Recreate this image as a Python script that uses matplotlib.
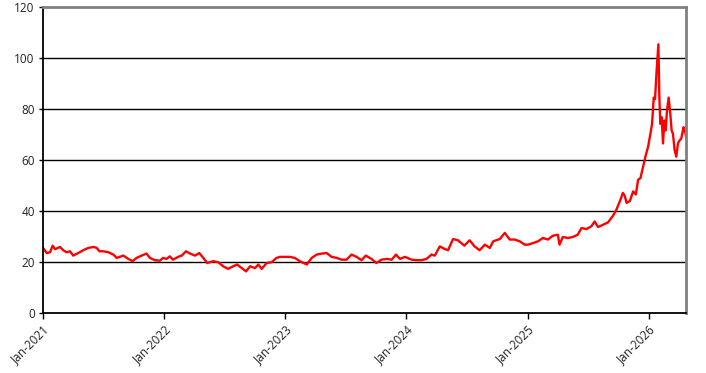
import matplotlib
matplotlib.use("Agg")
import matplotlib.pyplot as plt
import matplotlib.dates as mdates
import pandas as pd

plt.rcParams["font.family"] = ["Open Sans", "DejaVu Sans"]

# values, about every two weeks
dates = [
    "2021-01-01", "2021-01-12", "2021-01-22", "2021-01-30", "2021-02-06", "2021-02-21",
    "2021-03-03", "2021-03-13", "2021-03-23", "2021-04-02", "2021-04-17", "2021-05-02",
    "2021-05-17", "2021-06-02", "2021-06-12", "2021-06-20", "2021-07-02", "2021-07-17",
    "2021-08-01", "2021-08-11", "2021-08-31", "2021-09-15", "2021-09-28", "2021-10-10",
    "2021-10-25", "2021-11-09", "2021-11-19", "2021-12-04", "2021-12-19", "2021-12-29",
    "2022-01-08", "2022-01-18", "2022-01-28", "2022-02-12", "2022-02-23", "2022-03-08",
    "2022-03-20", "2022-04-04", "2022-04-17", "2022-04-29", "2022-05-11", "2022-05-29",
    "2022-06-13", "2022-06-28", "2022-07-13", "2022-07-28", "2022-08-09", "2022-08-23",
    "2022-09-05", "2022-09-17", "2022-10-02", "2022-10-12", "2022-10-22", "2022-11-06",
    "2022-11-21", "2022-12-06", "2022-12-16", "2023-01-01", "2023-01-15", "2023-01-30",
    "2023-02-14", "2023-03-07", "2023-03-22", "2023-04-06", "2023-04-21", "2023-05-06",
    "2023-05-21", "2023-06-05", "2023-06-20", "2023-07-05", "2023-07-20", "2023-08-04",
    "2023-08-19", "2023-09-01", "2023-09-18", "2023-10-03", "2023-10-18", "2023-11-03",
    "2023-11-18", "2023-12-01", "2023-12-13", "2023-12-28", "2024-01-17", "2024-02-01",
    "2024-02-16", "2024-03-02", "2024-03-17", "2024-03-27", "2024-04-11", "2024-04-26",
    "2024-05-06", "2024-05-21", "2024-06-05", "2024-06-20", "2024-06-24", "2024-07-10",
    "2024-07-25", "2024-08-09", "2024-08-25", "2024-09-09", "2024-09-19", "2024-10-09",
    "2024-10-24", "2024-11-08", "2024-11-23", "2024-12-08", "2024-12-23", "2025-01-02",
    "2025-01-17", "2025-02-01", "2025-02-16", "2025-03-03", "2025-03-18", "2025-04-02",
    "2025-04-07", "2025-04-17", "2025-05-02", "2025-05-17", "2025-06-01", "2025-06-12",
    "2025-06-27", "2025-07-12", "2025-07-22", "2025-08-01", "2025-08-16", "2025-08-31",
    "2025-09-15", "2025-09-25", "2025-10-05", "2025-10-15", "2025-10-21", "2025-10-26",
    "2025-11-05", "2025-11-15", "2025-11-23", "2025-11-30", "2025-12-07", "2025-12-15",
    "2025-12-23", "2025-12-30", "2026-01-06", "2026-01-11", "2026-01-16", "2026-01-20",
    "2026-01-24", "2026-01-30", "2026-02-02", "2026-02-05", "2026-02-09", "2026-02-13",
    "2026-02-17", "2026-02-21", "2026-02-25", "2026-03-02", "2026-03-07", "2026-03-11",
    "2026-03-15", "2026-03-20", "2026-03-25", "2026-03-30", "2026-04-04", "2026-04-09",
    "2026-04-16", "2026-04-20", "2026-04-24",
]
prices = [
    25.5, 23.5, 23.8, 26.4, 25.0, 25.9,
    24.6, 23.8, 24.2, 22.5, 23.5, 24.6,
    25.5, 25.9, 25.5, 24.2, 24.2, 23.8,
    22.9, 21.6, 22.5, 21.2, 20.3, 21.6,
    22.5, 23.3, 21.6, 20.7, 20.5, 21.6,
    21.2, 22.2, 20.9, 22.0, 22.5, 24.2,
    23.3, 22.5, 23.5, 21.6, 19.6, 20.3,
    19.9, 18.3, 17.3, 18.3, 19.0, 17.6,
    16.3, 18.3, 17.6, 19.0, 17.3, 19.6,
    19.9, 21.6, 22.0, 22.0, 22.0, 21.6,
    20.3, 19.0, 21.6, 22.9, 23.3, 23.5,
    22.0, 21.6, 20.9, 20.9, 22.9, 22.0,
    20.7, 22.5, 21.2, 19.6, 20.9, 21.2,
    20.9, 22.9, 21.2, 22.0, 20.9, 20.7,
    20.7, 21.2, 22.9, 22.5, 26.1, 25.1,
    24.6, 29.0, 28.5, 26.8, 26.4, 28.5,
    26.1, 24.6, 26.8, 25.5, 28.1, 29.0,
    31.4, 28.8, 28.8, 28.1, 26.8, 26.8,
    27.4, 28.1, 29.4, 28.8, 30.3, 30.7,
    26.8, 29.8, 29.4, 29.8, 30.7, 33.3,
    32.9, 34.0, 35.9, 33.7, 34.6, 35.5,
    38.1, 40.4, 43.5, 47.1, 45.8, 43.2,
    43.9, 47.7, 46.5, 52.3, 52.9, 57.4,
    61.9, 65.2, 70.3, 74.2, 84.5, 83.9,
    93.5, 105.4, 84.5, 74.2, 76.8, 66.5,
    75.5, 71.6, 79.4, 84.5, 78.1, 71.6,
    70.3, 63.9, 61.3, 66.5, 67.7, 68.4,
    72.9, 71.6, 69.0,
]
yticks = [0, 20, 40, 60, 80, 100, 120]

x = pd.to_datetime(dates)

fig = plt.figure(figsize=(7.06, 3.73), dpi=100)
ax = fig.add_axes([0.061, 0.161, 0.911, 0.82])

ax.plot(x, prices, color="#ff0000", linewidth=1.7)

ax.set_xlim(x[0], x[-1])
ax.set_ylim(0, 120)
ax.set_yticks(yticks)
for v in yticks[1:-1]:
    ax.axhline(v, color="black", linewidth=1, zorder=0)

ax.xaxis.set_major_locator(mdates.YearLocator())
ax.xaxis.set_major_formatter(mdates.DateFormatter("%b-%Y"))
plt.setp(ax.get_xticklabels(), rotation=45, ha="right", rotation_mode="anchor")

ax.tick_params(axis="both", labelsize=8.5, labelcolor="#222222", length=4, width=1)
ax.tick_params(axis="y", length=3, pad=3)

for side in ["left", "bottom"]:
    ax.spines[side].set_color("black")
    ax.spines[side].set_linewidth(1.3)
for side in ["top", "right"]:
    ax.spines[side].set_color("#808080")
    ax.spines[side].set_linewidth(2)

fig.savefig("out.png", dpi=100)
